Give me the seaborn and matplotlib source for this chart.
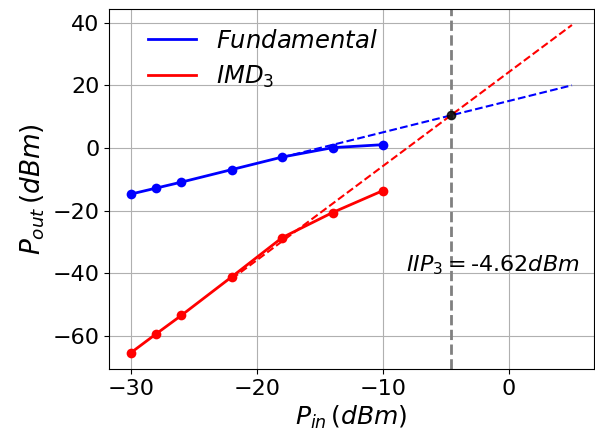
import matplotlib
matplotlib.use("Agg")
import matplotlib.pyplot as plt
from matplotlib.lines import Line2D
import seaborn as sns
import numpy as np
import pandas as pd

# Data
pin = [-30, -28, -26, -22, -18, -14, -10]
fund = [-14.7, -12.8, -10.9, -6.9, -2.9, 0.1, 1.05]
imd3 = [-65.3, -59.3, -53.4, -41.1, -28.6, -20.6, -13.6]

iip3 = -4.62
oip3 = 10.38
fund_ext_x = [-18, 5]
fund_ext_y = [-3.0, 20.0]
imd_ext_x = [-22, 5]
imd_ext_y = [-41.76, 39.24]

plt.rcParams['font.family'] = ['DejaVu Sans']
fig, ax = plt.subplots(figsize=(5.95, 4.34), dpi=100)
fig.subplots_adjust(left=109/595, right=594/595, top=1-8.6/434, bottom=1-369/434)

df = pd.DataFrame({"pin": pin, "fund": fund, "imd3": imd3})
sns.lineplot(data=df, x="pin", y="fund", color="blue", lw=2, marker="o",
             markersize=7, markeredgewidth=0, ax=ax)
sns.lineplot(data=df, x="pin", y="imd3", color="red", lw=2, marker="o",
             markersize=7, markeredgewidth=0, ax=ax)
sns.lineplot(x=fund_ext_x, y=fund_ext_y, color="blue", lw=1.5, ls="--", ax=ax)
sns.lineplot(x=imd_ext_x, y=imd_ext_y, color="red", lw=1.5, ls="--", ax=ax)
ax.axvline(iip3, color="gray", ls="--", lw=2)
ax.plot([iip3], [oip3], "o", color="black", markersize=6, alpha=0.8)

ax.text(-8.15, -37.3, "$IIP_3 = $-4.62$dBm$", fontsize=16, va="center", ha="left")

ax.grid(True, color="#b0b0b0", lw=0.8)
ax.set_axisbelow(True)
ax.set_xlabel(r"$P_{in}\,(dBm)$", fontsize=18)
ax.set_ylabel(r"$P_{out}\,(dBm)$", fontsize=19)
ax.tick_params(labelsize=16)
ax.set_xticks([-30, -20, -10, 0])
ax.set_yticks([-60, -40, -20, 0, 20, 40])
handles = [Line2D([], [], color="blue", lw=2), Line2D([], [], color="red", lw=2)]
ax.legend(handles, ["$Fundamental$", "$IMD_3$"], fontsize=17.5, frameon=False,
          loc="upper left", bbox_to_anchor=(0.035, 1.005), handlelength=2.0,
          labelspacing=0.45)

fig.savefig("out.png", dpi=100)
